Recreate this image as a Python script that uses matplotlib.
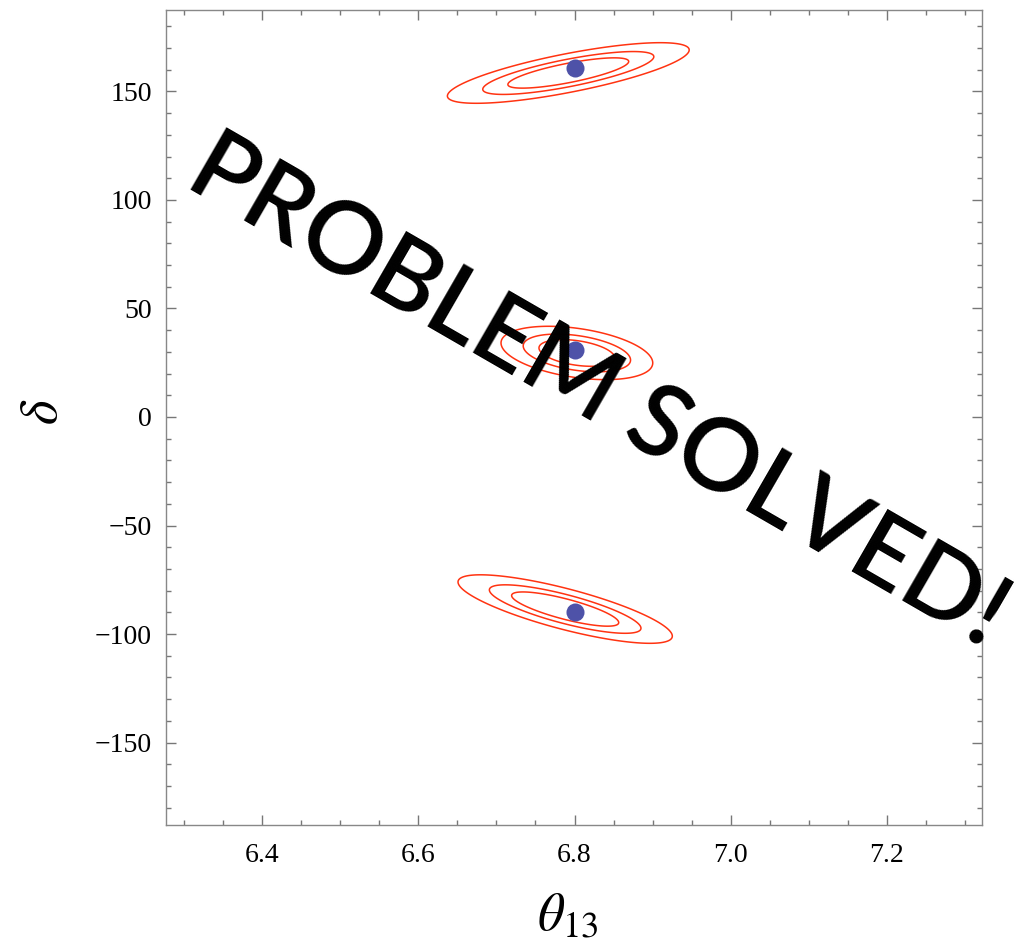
import numpy as np
import matplotlib.pyplot as plt
from matplotlib.ticker import MultipleLocator, FormatStrFormatter

plt.rcParams['mathtext.fontset'] = 'stix'

# best-fit points
theta_best = [6.8, 6.8, 6.8]
delta_best = [161, 31, -90]

# gaussian approximation of each chi^2 minimum
fit_theta = [6.792, 6.803, 6.788]
fit_delta = [158.5, 29.5, -88.5]
sig_theta = [0.051, 0.032, 0.0452]
sig_delta = [4.6, 4.05, 5.2]
rho = [0.76, -0.375, -0.79]

# delta chi^2 levels (68%, 90%, 99% for 2 dof)
levels = [2.30, 4.61, 9.21]

xlim = (6.277, 7.322)
ylim = (-188, 187.5)

fig = plt.figure(figsize=(10.26, 9.39), dpi=100)
ax = fig.add_axes([0.1618, 0.1214, 0.7956, 0.8679])

tx = np.linspace(xlim[0], xlim[1], 900)
dy = np.linspace(ylim[0], ylim[1], 1500)
X, Y = np.meshgrid(tx, dy)
chi2 = np.full(X.shape, np.inf)
for x0, y0, sx, sy, r in zip(fit_theta, fit_delta, sig_theta, sig_delta, rho):
    u = (X - x0) / sx
    v = (Y - y0) / sy
    c = (u**2 - 2*r*u*v + v**2) / (1 - r**2)
    chi2 = np.minimum(chi2, c)

ax.contour(X, Y, chi2, levels=levels, colors='#ff3311', linewidths=1.1)
ax.plot(theta_best, delta_best, 'o', color='#4e52a8', ms=13, mec='none')

ax.set_xlim(xlim)
ax.set_ylim(ylim)
ax.xaxis.set_major_locator(MultipleLocator(0.2))
ax.xaxis.set_minor_locator(MultipleLocator(0.05))
ax.xaxis.set_major_formatter(FormatStrFormatter('%.1f'))
ax.yaxis.set_major_locator(MultipleLocator(50))
ax.yaxis.set_minor_locator(MultipleLocator(10))
ax.tick_params(which='both', direction='in', top=True, right=True,
               color='#777777', width=1)
ax.tick_params(which='major', length=7.5)
ax.tick_params(which='minor', length=3.8)
ax.tick_params(axis='x', pad=13)
ax.tick_params(axis='y', pad=10)
for lab in ax.get_xticklabels() + ax.get_yticklabels():
    lab.set_family('Liberation Serif')
    lab.set_fontsize(20)
for s in ax.spines.values():
    s.set_color('#888888')
    s.set_linewidth(1)

fig.text(568/1026, 1 - 915/939, r'$\theta_{13}$', fontsize=38,
         ha='center', va='center')
fig.text(42/1026, 1 - 412/939, r'$\delta$', fontsize=38, rotation=90,
         ha='center', va='center')

fig.text(598/1026, 1 - 392/939, 'PROBLEM SOLVED!', rotation=-30,
         rotation_mode='anchor', ha='center', va='center',
         fontsize=73, family='Lato', weight='semibold', color='black')

fig.savefig('out.png', dpi=100)
